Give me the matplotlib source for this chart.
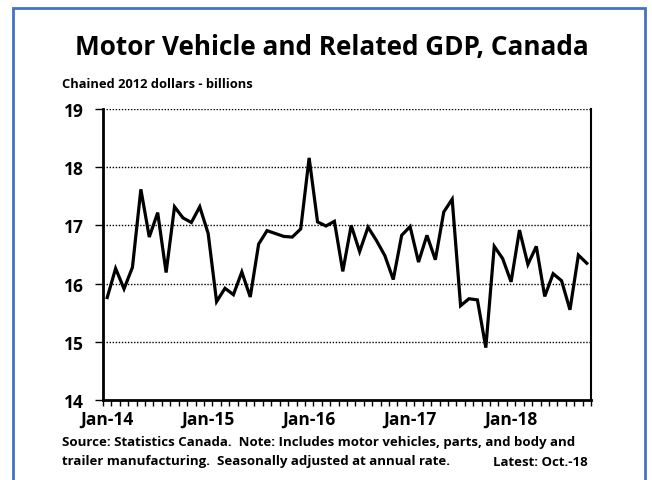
import numpy as np
import matplotlib.pyplot as plt
from matplotlib.patches import Rectangle

# monthly GDP, Jan-14 .. Oct-18 (chained 2012 $ billions)
gdp = [15.76, 16.26, 15.91, 16.28, 17.62, 16.80, 17.22, 16.19, 17.32, 17.13, 17.05, 17.32,
       16.86, 15.69, 15.92, 15.81, 16.20, 15.77, 16.68, 16.91, 16.86, 16.81, 16.80, 16.94,
       18.16, 17.06, 16.99, 17.07, 16.21, 17.00, 16.55, 16.97, 16.74, 16.48, 16.07, 16.83,
       16.98, 16.37, 16.83, 16.41, 17.23, 17.45, 15.62, 15.74, 15.72, 14.90, 16.64, 16.43,
       16.03, 16.92, 16.33, 16.64, 15.78, 16.17, 16.05, 15.55, 16.49, 16.35]
year_labels = ['Jan-14', 'Jan-15', 'Jan-16', 'Jan-17', 'Jan-18']
y_ticks = [14, 15, 16, 17, 18, 19]

font = 'Open Sans'
plt.rcParams['font.family'] = [font, 'DejaVu Sans']

fig = plt.figure(figsize=(6.52, 4.81), dpi=100)
W, H = 652, 481
ax = fig.add_axes([103/W, 1 - 401/H, (591-103)/W, (401-110)/H])

x = np.arange(len(gdp))
ax.plot(x, gdp, color='black', lw=2.3, solid_joinstyle='miter')

ax.set_xlim(-0.5, len(gdp) - 0.5)
ax.set_ylim(14, 19)
ax.set_yticks(y_ticks)
ax.set_yticklabels([str(v) for v in y_ticks], fontsize=12.5, fontweight='bold')
for v in y_ticks[1:]:
    ax.axhline(v, color='black', lw=1.0, ls=(0, (1, 1.2)), zorder=1)

ax.set_xticks(np.arange(-0.5, len(gdp)), minor=True)
ax.set_xticks(np.arange(0, len(gdp), 12))
ax.set_xticklabels(year_labels, fontsize=12.5, fontweight='bold')
ax.tick_params(axis='x', which='major', length=0, pad=7)
ax.tick_params(axis='x', which='minor', length=4, width=1, direction='out')
ax.tick_params(axis='y', length=6, width=1, direction='out', pad=8)

ax.spines['top'].set_visible(False)
ax.spines['left'].set_linewidth(2)
ax.spines['bottom'].set_linewidth(2)
ax.spines['right'].set_linewidth(1.5)

fig.text(332/W, 1 - 47/H, 'Motor Vehicle and Related GDP, Canada', ha='center', va='center',
         fontsize=18.8, fontweight='bold')
fig.text(62/W, 1 - 85/H, 'Chained 2012 dollars - billions', ha='left', va='center',
         fontsize=9.3, fontweight='bold')
fig.text(62/W, 1 - 443/H, 'Source: Statistics Canada.  Note: Includes motor vehicles, parts, and body and',
         ha='left', va='center', fontsize=9.5, fontweight='bold')
fig.text(62/W, 1 - 462/H, 'trailer manufacturing.  Seasonally adjusted at annual rate.',
         ha='left', va='center', fontsize=9.5, fontweight='bold')
fig.text(588/W, 1 - 462/H, 'Latest: Oct.-18', ha='right', va='center', fontsize=9.5, fontweight='bold')

fig.patches.append(Rectangle((13/W, -0.05), (645-13)/W, 1.05 - 9/H, transform=fig.transFigure,
                             fill=False, edgecolor='#4472c4', lw=2))

fig.savefig('out.png', dpi=100)
